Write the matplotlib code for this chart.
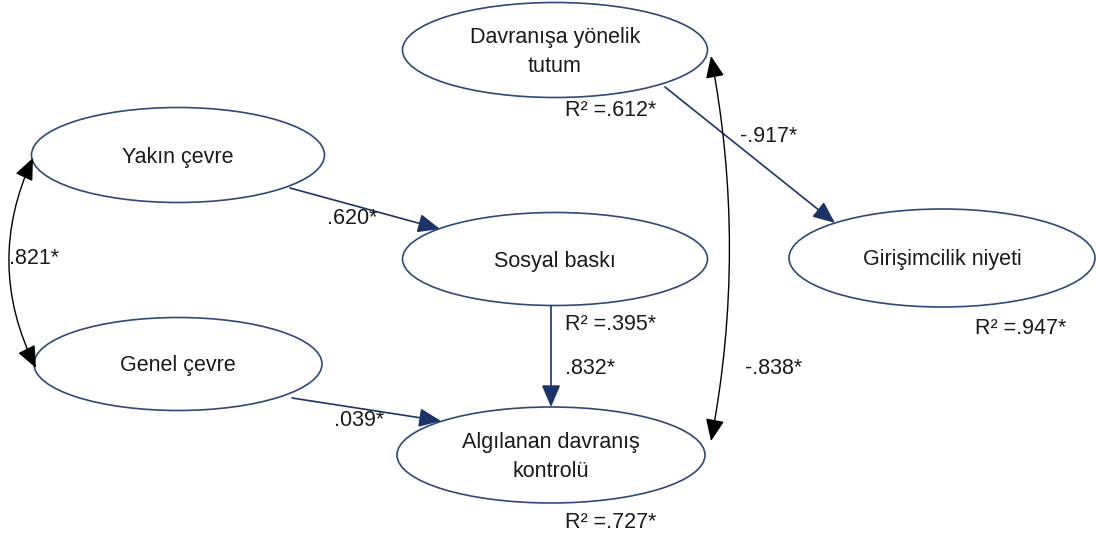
import matplotlib.pyplot as plt
from matplotlib.patches import Ellipse, FancyArrowPatch

plt.rcParams['font.family'] = ['Liberation Sans', 'DejaVu Sans']

# Latent constructs
nodes = ['Davranışa yönelik\ntutum', 'Yakın çevre', 'Genel çevre',
         'Sosyal baskı', 'Algılanan davranış\nkontrolü', 'Girişimcilik niyeti']
# Direct paths (source, target, coefficient)
paths = [('Yakın çevre', 'Sosyal baskı', '.620*'),
         ('Genel çevre', 'Algılanan davranış\nkontrolü', '.039*'),
         ('Sosyal baskı', 'Algılanan davranış\nkontrolü', '.832*'),
         ('Davranışa yönelik\ntutum', 'Girişimcilik niyeti', '-.917*')]
# Correlations (double headed)
correlations = [('Yakın çevre', 'Genel çevre', '.821*'),
                ('Davranışa yönelik\ntutum', 'Algılanan davranış\nkontrolü', '-.838*')]
# Explained variance
r2 = {'Davranışa yönelik\ntutum': '.612*', 'Sosyal baskı': '.395*',
      'Algılanan davranış\nkontrolü': '.727*', 'Girişimcilik niyeti': '.947*'}

# layout in pixel units (x, y, w, h)
layout = {nodes[0]: (555, 50, 305, 95), nodes[1]: (178, 155, 293, 95),
          nodes[2]: (178, 364, 288, 93), nodes[3]: (555, 259, 305, 93),
          nodes[4]: (551, 455, 308, 96), nodes[5]: (942, 258, 306, 98)}
# arrow end points per path/correlation
path_pts = [((290, 188), (440, 229)), ((292, 398), (441, 421)),
            ((551, 306), (551, 407)), ((665, 87), (835, 223))]
path_lbl = [(327, 218), (334, 421), (565, 368), (740, 136)]
corr_pts = [((33, 158), (36, 368), 0.24), ((711, 56), (711, 441), -0.095)]
corr_lbl = [(9, 258), (745, 368)]
r2_lbl = {nodes[0]: (565, 110), nodes[3]: (565, 325), nodes[4]: (565, 522), nodes[5]: (975, 328)}

edge = '#2E4978'
arrow_c = '#1B3468'
fs = 15.5

fig = plt.figure(figsize=(10.96, 5.36), dpi=100)
ax = fig.add_axes([0, 0, 1, 1])
ax.set_xlim(0, 1096)
ax.set_ylim(536, 0)
ax.axis('off')

for n in nodes:
    x, y, w, h = layout[n]
    ax.add_patch(Ellipse((x, y), w, h, fill=False, edgecolor=edge, lw=1.2))
    ax.text(x, y + 2, n, ha='center', va='center', fontsize=fs, color='#1a1a1a', linespacing=1.45)

for (a, b, coef), (p0, p1), (lx, ly) in zip(paths, path_pts, path_lbl):
    ax.add_patch(FancyArrowPatch(p0, p1, arrowstyle='-|>,head_length=0.75,head_width=0.32',
                                 mutation_scale=18, color=arrow_c, lw=1.2, shrinkA=0, shrinkB=0))
    ax.text(lx, ly, coef, fontsize=fs, va='center', ha='left', color='#1a1a1a')

for (a, b, coef), (p0, p1, rad), (lx, ly) in zip(correlations, corr_pts, corr_lbl):
    ax.add_patch(FancyArrowPatch(p0, p1, arrowstyle='<|-|>,head_length=0.75,head_width=0.32',
                                 connectionstyle='arc3,rad=%s' % rad,
                                 mutation_scale=18, color='black', lw=1.0, shrinkA=0, shrinkB=0))
    ax.text(lx, ly, coef, fontsize=fs, va='center', ha='left', color='#1a1a1a')

for n, v in r2.items():
    lx, ly = r2_lbl[n]
    ax.text(lx, ly, 'R² =' + v, fontsize=fs, va='center', ha='left', color='#1a1a1a')

fig.savefig('out.png', dpi=100, facecolor='white')
